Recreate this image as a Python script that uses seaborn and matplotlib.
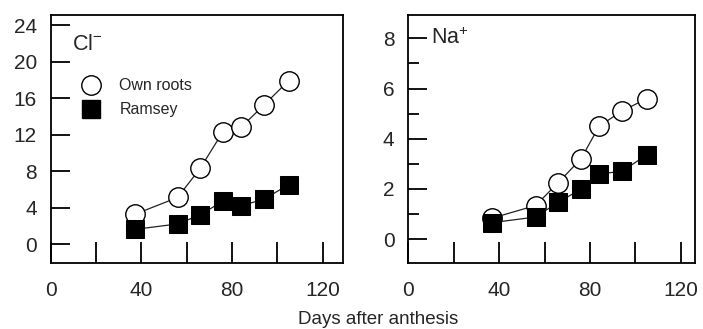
import numpy as np
import pandas as pd
import matplotlib
matplotlib.use("Agg")
import matplotlib.pyplot as plt
import seaborn as sns
from matplotlib.lines import Line2D
from matplotlib.ticker import MultipleLocator, FixedLocator

# datos
days = [37, 56, 66, 76, 84, 94, 105]
cl_own = [3.25, 5.1, 8.3, 12.3, 12.8, 15.2, 17.9]
cl_ramsey = [1.6, 2.2, 3.2, 4.7, 4.2, 4.9, 6.5]
na_own = [0.84, 1.34, 2.25, 3.2, 4.5, 5.1, 5.6]
na_ramsey = [0.66, 0.88, 1.47, 1.99, 2.6, 2.7, 3.36]
series_names = ['Own roots', 'Ramsey']

sns.set_style("ticks")
plt.rcParams['font.family'] = ['Liberation Sans', 'DejaVu Sans']

fig = plt.figure(figsize=(7.03, 3.29), dpi=100)
W, H = 703, 329
ax1 = fig.add_axes([50.7 / W, (H - 263) / H, (343 - 50.7) / W, 248 / H])
ax2 = fig.add_axes([408.3 / W, (H - 263) / H, (695 - 408.3) / W, 248 / H])

def draw(ax, own, ram, xmax):
    df = pd.DataFrame({'day': days * 2,
                       'value': own + ram,
                       'serie': [series_names[0]] * len(days) + [series_names[1]] * len(days)})
    sns.lineplot(data=df[df['serie'] == 'Own roots'], x='day', y='value', ax=ax,
                 color='#222222', lw=0.9, marker='o', markersize=14,
                 markerfacecolor='white', markeredgecolor='black', markeredgewidth=1.0)
    sns.lineplot(data=df[df['serie'] == 'Ramsey'], x='day', y='value', ax=ax,
                 color='#222222', lw=0.9, marker='s', markersize=13,
                 markerfacecolor='black', markeredgecolor='black')
    ax.set_xlim(0, xmax)
    ax.xaxis.set_major_locator(FixedLocator([0, 40, 80, 120]))
    ax.xaxis.set_minor_locator(FixedLocator([20, 60, 100]))
    ax.set_xlabel('')
    ax.set_ylabel('')
    for s in ax.spines.values():
        s.set_visible(True)
        s.set_linewidth(1.3)
        s.set_color('black')
    ax.tick_params(axis='both', which='both', direction='in', color='black', width=1.3)
    ax.tick_params(axis='x', which='both', length=15, pad=13, labelsize=15)
    ax.tick_params(axis='y', which='major', length=14, pad=10, labelsize=15)
    ax.tick_params(axis='y', which='minor', length=8)
    ax.tick_params(top=False, right=False, which='both')

draw(ax1, cl_own, cl_ramsey, 129)
ax1.set_ylim(-2.08, 25.1)
ax1.yaxis.set_major_locator(MultipleLocator(4))
ax1.yaxis.set_minor_locator(FixedLocator([]))
ax1.text(0.072, 0.925, 'Cl$^{\\mathregular{-}}$', transform=ax1.transAxes, fontsize=15.5,
         va='top', ha='left')

draw(ax2, na_own, na_ramsey, 126.2)
ax2.set_ylim(-0.95, 8.93)
ax2.yaxis.set_major_locator(MultipleLocator(2))
ax2.yaxis.set_minor_locator(MultipleLocator(1))
ax2.text(0.08, 0.95, 'Na$^{\\mathregular{+}}$', transform=ax2.transAxes, fontsize=15.5,
         va='top', ha='left')

handles = [Line2D([], [], ls='none', marker='o', markersize=14, markerfacecolor='white',
                  markeredgecolor='black'),
           Line2D([], [], ls='none', marker='s', markersize=13, markerfacecolor='black',
                  markeredgecolor='black')]
ax1.legend(handles, series_names, loc='upper left', bbox_to_anchor=(0.06, 0.77),
           frameon=False, fontsize=11.5, handletextpad=0.8, labelspacing=0.55,
           borderaxespad=0)

fig.text(378 / W, 1 - 319 / H, 'Days after anthesis', ha='center', va='center', fontsize=13.5)

fig.savefig('out.png', dpi=100)
